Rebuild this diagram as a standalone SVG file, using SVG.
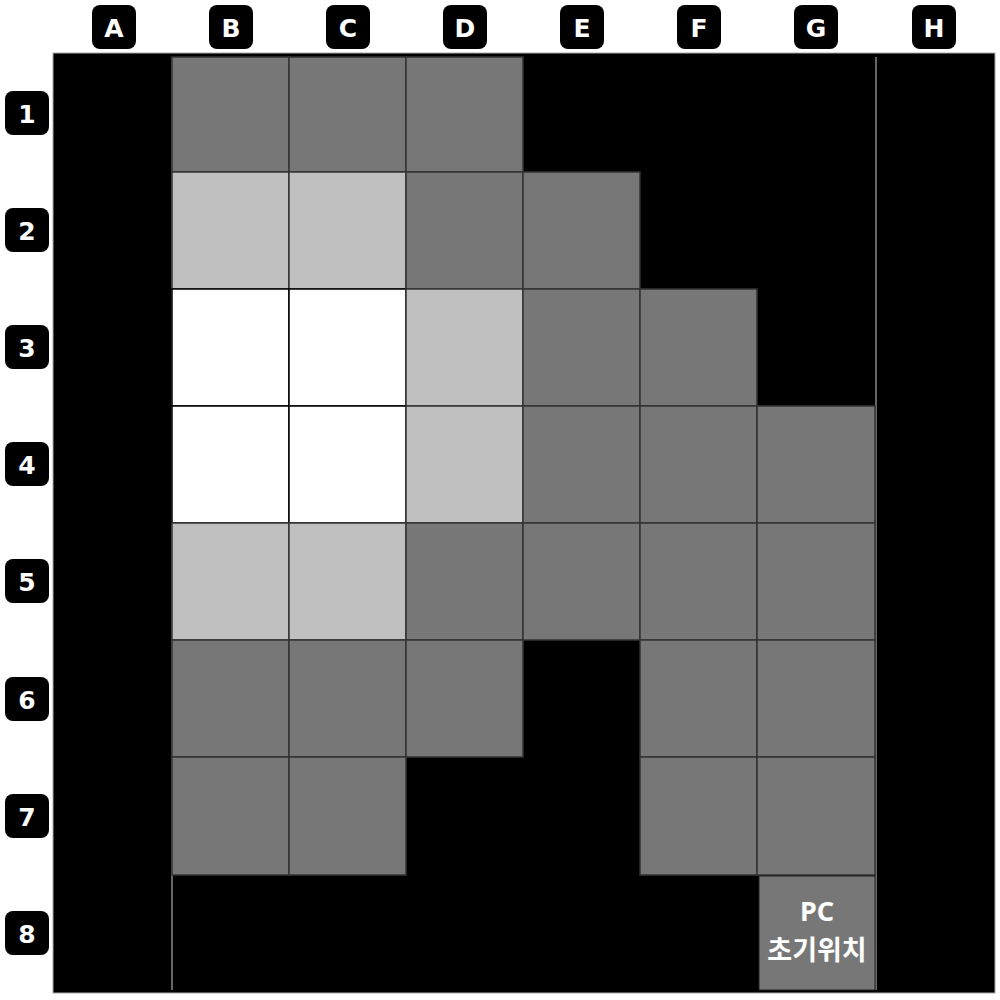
<svg xmlns="http://www.w3.org/2000/svg" width="1000" height="1000" viewBox="0 0 1000 1000">
<style>
.lab rect{fill:#000}
.lab text{fill:#fff;font-family:"DejaVu Sans",sans-serif;font-weight:bold;font-size:25px;text-anchor:middle;dominant-baseline:central}
.d{fill:#777;stroke:#333;stroke-width:1.5}
.l{fill:#c0c0c0;stroke:#333;stroke-width:1.5}
.w{fill:#fff;stroke:#000;stroke-width:1.5}
.sep{stroke:#888;stroke-width:1.5}
.pc{fill:#fff;font-weight:bold;font-size:27px;text-anchor:middle}
</style>
<rect width="1000" height="1000" fill="#fff"/>
<g id="board">
<rect x="53" y="53" width="942" height="940" fill="#000" stroke="#aaa" stroke-width="1"/>
<line class="sep" x1="172" y1="57" x2="172" y2="990"/>
<line class="sep" x1="876" y1="57" x2="876" y2="990"/>
</g>
<g id="col-labels" class="lab">
<rect x="92" y="5" width="44" height="44" rx="8"/><text x="114" y="28">A</text>
<rect x="209" y="5" width="44" height="44" rx="8"/><text x="231" y="28">B</text>
<rect x="326" y="5" width="44" height="44" rx="8"/><text x="348" y="28">C</text>
<rect x="443" y="5" width="44" height="44" rx="8"/><text x="465" y="28">D</text>
<rect x="560" y="5" width="44" height="44" rx="8"/><text x="582" y="28">E</text>
<rect x="677" y="5" width="44" height="44" rx="8"/><text x="699" y="28">F</text>
<rect x="794" y="5" width="44" height="44" rx="8"/><text x="816" y="28">G</text>
<rect x="912" y="5" width="44" height="44" rx="8"/><text x="934" y="28">H</text>
</g>
<g id="row-labels" class="lab">
<rect x="5" y="91" width="44" height="44" rx="8"/><text x="27" y="114">1</text>
<rect x="5" y="208" width="44" height="44" rx="8"/><text x="27" y="231">2</text>
<rect x="5" y="325" width="44" height="44" rx="8"/><text x="27" y="348">3</text>
<rect x="5" y="442" width="44" height="44" rx="8"/><text x="27" y="465">4</text>
<rect x="5" y="559" width="44" height="44" rx="8"/><text x="27" y="582">5</text>
<rect x="5" y="677" width="44" height="44" rx="8"/><text x="27" y="700">6</text>
<rect x="5" y="794" width="44" height="44" rx="8"/><text x="27" y="817">7</text>
<rect x="5" y="911" width="44" height="44" rx="8"/><text x="27" y="934">8</text>
</g>
<g id="cells">
<rect class="d" x="172" y="57" width="117" height="115"/>
<rect class="d" x="289" y="57" width="117" height="115"/>
<rect class="d" x="406" y="57" width="117" height="115"/>
<rect class="l" x="172" y="172" width="117" height="117"/>
<rect class="l" x="289" y="172" width="117" height="117"/>
<rect class="d" x="406" y="172" width="117" height="117"/>
<rect class="d" x="523" y="172" width="117" height="117"/>
<rect class="w" x="172" y="289" width="117" height="117"/>
<rect class="w" x="289" y="289" width="117" height="117"/>
<rect class="l" x="406" y="289" width="117" height="117"/>
<rect class="d" x="523" y="289" width="117" height="117"/>
<rect class="d" x="640" y="289" width="117" height="117"/>
<rect class="w" x="172" y="406" width="117" height="117"/>
<rect class="w" x="289" y="406" width="117" height="117"/>
<rect class="l" x="406" y="406" width="117" height="117"/>
<rect class="d" x="523" y="406" width="117" height="117"/>
<rect class="d" x="640" y="406" width="117" height="117"/>
<rect class="d" x="757" y="406" width="118" height="117"/>
<rect class="l" x="172" y="523" width="117" height="117"/>
<rect class="l" x="289" y="523" width="117" height="117"/>
<rect class="d" x="406" y="523" width="117" height="117"/>
<rect class="d" x="523" y="523" width="117" height="117"/>
<rect class="d" x="640" y="523" width="117" height="117"/>
<rect class="d" x="757" y="523" width="118" height="117"/>
<rect class="d" x="172" y="640" width="117" height="117"/>
<rect class="d" x="289" y="640" width="117" height="117"/>
<rect class="d" x="406" y="640" width="117" height="117"/>
<rect class="d" x="640" y="640" width="117" height="117"/>
<rect class="d" x="757" y="640" width="118" height="117"/>
<rect class="d" x="172" y="757" width="117" height="118"/>
<rect class="d" x="289" y="757" width="117" height="118"/>
<rect class="d" x="640" y="757" width="117" height="118"/>
<rect class="d" x="757" y="757" width="118" height="118"/>
</g>
<g id="pc-start">
<rect x="759" y="876" width="116" height="114" fill="#777" stroke="#222" stroke-width="1"/>
<text class="pc" x="817" y="921" font-family="'Noto Sans',sans-serif">PC</text>
<text class="pc" x="817" y="960" font-family="'Noto Sans CJK KR',sans-serif">초기위치</text>
</g>
</svg>
